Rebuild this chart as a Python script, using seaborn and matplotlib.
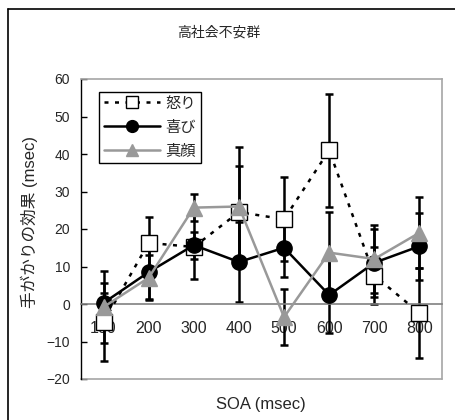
import numpy as np
import matplotlib
matplotlib.use("Agg")
import matplotlib.pyplot as plt
import seaborn as sns
from matplotlib.lines import Line2D
from matplotlib.ticker import FixedLocator

# ---- data ----
soa = ["100", "200", "300", "400", "500", "600", "700", "800"]
anger = [-4.8, 16.3, 15.2, 24.5, 22.6, 41.0, 7.6, -2.4]
anger_err = [10.5, 7.0, 8.5, 12.3, 11.2, 15.0, 7.7, 12.0]
happy = [0.3, 8.5, 15.7, 11.2, 15.0, 2.4, 11.0, 15.4]
happy_err = [2.6, 7.2, 3.6, 10.6, 7.7, 10.0, 9.0, 9.0]
neutral = [-0.8, 7.0, 25.7, 26.0, -3.5, 13.7, 12.0, 19.0]
neutral_err = [9.6, 6.0, 3.6, 16.0, 7.5, 10.8, 9.0, 9.5]
series_names = ["怒り", "喜び", "真顔"]
yticks = [-20, -10, 0, 10, 20, 30, 40, 50, 60]

sns.set_style("white")
plt.rcParams["font.family"] = ["Liberation Sans", "Noto Sans CJK JP", "DejaVu Sans"]

W, H = 456, 420
fig = plt.figure(figsize=(W / 100, H / 100), dpi=100)
ax = fig.add_axes([81 / W, 1 - 379 / H, 361 / W, 300 / H])

pos = np.arange(len(soa))
gray = "#999999"
styles = [
    dict(color="black", linestyle=(0, (1.6, 2.6)), marker="s", markersize=11,
         markerfacecolor="white", markeredgecolor="black"),
    dict(color="black", linestyle="-", marker="o", markersize=11,
         markerfacecolor="black", markeredgecolor="black"),
    dict(color=gray, linestyle="-", marker="^", markersize=12,
         markerfacecolor=gray, markeredgecolor=gray),
]
vals = [anger, happy, neutral]
errs = [anger_err, happy_err, neutral_err]

for v, e in zip(vals, errs):
    ax.errorbar(pos, v, yerr=e, fmt="none", ecolor="black", elinewidth=1.8,
                capsize=3.2, capthick=1.8, zorder=2)

for name, v, st in zip(series_names, vals, styles):
    sns.lineplot(x=pos, y=v, ax=ax, label=name, lw=1.8, markeredgewidth=1,
                 zorder=3, **st)

ax.set_xlim(-0.5, len(soa) - 0.5)
ax.set_ylim(yticks[0], yticks[-1])
ax.set_yticks(yticks)
ax.set_xticks(pos)
ax.set_xticklabels(soa)
ax.xaxis.set_minor_locator(FixedLocator(np.arange(-0.5, len(soa), 1.0)))
ax.tick_params(axis="x", which="major", length=0, pad=12, labelsize=11.5)
ax.tick_params(axis="x", which="minor", direction="in", length=4, width=1, color="#333333")
ax.tick_params(axis="y", direction="in", length=4, width=1, pad=8, labelsize=10,
               left=True, color="black")
ax.set_xlabel("")
ax.set_ylabel("")

ax.spines["bottom"].set_position(("data", 0))
ax.spines["bottom"].set_color("#808080")
ax.spines["bottom"].set_linewidth(1.2)
ax.spines["left"].set_color("black")
ax.spines["left"].set_linewidth(1.0)
for s in ["top", "right"]:
    ax.spines[s].set_visible(True)
    ax.spines[s].set_color("#a6a6a6")
    ax.spines[s].set_linewidth(1.2)
ax.add_line(Line2D([0, 1], [0, 0], transform=ax.transAxes, color="#a6a6a6",
                   lw=1.2, clip_on=False))

leg = ax.legend(loc="upper left", bbox_to_anchor=(99 / W, 1 - 92 / H),
                bbox_transform=fig.transFigure, borderaxespad=0, fancybox=False,
                edgecolor="black", framealpha=1, fontsize=11, handlelength=3.7,
                handletextpad=0.35, labelspacing=0.65, borderpad=0.3)
leg.get_frame().set_linewidth(1.0)
for h in leg.legend_handles:
    h.set_markersize(8.5)

fig.text(219 / W, 1 - 33 / H, "高社会不安群", ha="center", va="center", fontsize=10)
fig.text(261 / W, 1 - 405 / H, "SOA (msec)", ha="center", va="center", fontsize=12)
fig.text(29 / W, 1 - 222 / H, "手がかりの効果 (msec)", ha="center", va="center",
         rotation=90, fontsize=12)

# outer chart-area border (left and top edges visible)
fig.add_artist(Line2D([8 / W, 8 / W], [0, 1 - 9 / H], transform=fig.transFigure,
                      color="black", lw=1.2))
fig.add_artist(Line2D([8 / W, 1], [1 - 9 / H, 1 - 9 / H], transform=fig.transFigure,
                      color="black", lw=1.2))

fig.savefig("out.png", dpi=100)
